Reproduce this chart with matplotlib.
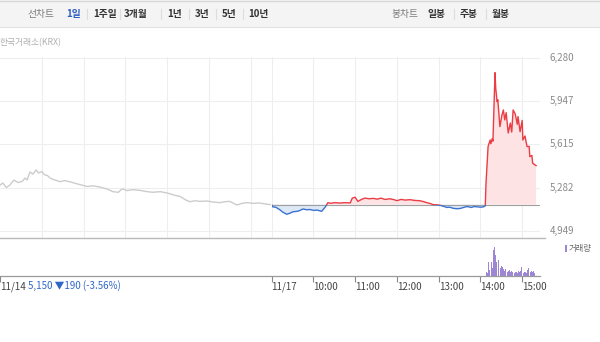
import numpy as np
import matplotlib
matplotlib.use("Agg")
import matplotlib.pyplot as plt
from matplotlib.patches import Rectangle

plt.rcParams['font.family'] = ['Noto Sans CJK KR', 'DejaVu Sans']

# ---------------- data ----------------
# 11/14 (minutes since 09:00) and price
d1_min = [0, 4, 9, 14, 20, 26, 32, 36, 39, 43, 47, 52, 55, 60, 64, 68, 72, 76, 82, 86, 93,
          101, 111, 118, 125, 134, 144, 154, 162, 170, 174, 177, 182, 191, 201, 211, 220,
          230, 240, 249, 259, 267, 273, 280, 287, 297, 306, 316, 323, 330, 340, 348, 355,
          363, 373, 381, 388]
d1_px = [5300, 5317, 5282, 5300, 5340, 5320, 5330, 5355, 5340, 5402, 5385, 5418, 5395, 5405,
         5380, 5375, 5355, 5345, 5335, 5327, 5335, 5325, 5310, 5300, 5290, 5295, 5285, 5270,
         5250, 5245, 5265, 5271, 5258, 5265, 5260, 5250, 5245, 5250, 5240, 5225, 5212, 5185,
         5172, 5180, 5175, 5178, 5170, 5165, 5172, 5175, 5147, 5160, 5165, 5160, 5162, 5155,
         5150]

# 11/17 (minutes since 09:00) and price
d2_min = [0, 2, 6, 12, 16, 22, 27, 31, 37, 41, 45, 51, 55, 61, 65, 72, 77, 81, 85, 91, 98,
          106, 113, 116, 120, 124, 130, 134, 140, 146, 152, 157, 163, 170, 176, 180, 186,
          192, 199, 206, 213, 219, 223, 228, 232, 238, 242, 248, 252, 256, 261, 266, 271,
          277, 281, 287, 291, 295, 300, 304, 307, 308, 310, 311, 314, 315, 317, 318, 321,
          322, 324, 325, 328, 331, 333, 335, 337, 340, 343, 345, 347, 350, 353, 354, 357,
          360, 361, 364, 367, 370, 371, 374, 375, 380]
d2_px = [5150, 5132, 5130, 5110, 5092, 5075, 5085, 5095, 5098, 5105, 5116, 5110, 5112, 5105,
         5108, 5098, 5130, 5165, 5160, 5165, 5162, 5165, 5163, 5200, 5207, 5175, 5192, 5200,
         5195, 5198, 5192, 5200, 5190, 5195, 5188, 5180, 5190, 5185, 5188, 5182, 5180, 5172,
         5165, 5158, 5150, 5148, 5145, 5135, 5128, 5130, 5121, 5118, 5120, 5130, 5135, 5128,
         5135, 5133, 5130, 5132, 5140, 5310, 5500, 5598, 5649, 5620, 5660, 5640, 6169, 6050,
         5945, 5960, 5752, 5842, 5881, 5804, 5860, 5703, 5780, 5710, 5881, 5850, 5770, 5830,
         5713, 5800, 5649, 5680, 5598, 5600, 5520, 5530, 5470, 5451]

prev_close_d2 = 5150

# 11/17 volume (minutes since 09:00)
vol_min = [309, 310, 311, 312, 313, 314, 315, 316, 317, 318, 319, 320, 321, 322, 323, 324,
           325, 326, 327, 328, 329, 330, 331, 332, 333, 334, 335, 336, 337, 338, 339, 340,
           341, 342, 343, 344, 345, 346, 347, 348, 349, 350, 351, 352, 353, 354, 355, 356,
           357, 358, 359, 360, 361, 362, 363, 364, 365, 366, 367, 368, 369, 370, 371, 372,
           373, 374, 375, 376, 377, 378]
vol = [4, 3, 5, 14, 6, 22, 9, 14, 8, 31, 26, 29, 17, 21, 14, 23, 12, 16, 9, 13, 8, 10, 6, 9,
       7, 8, 5, 7, 5, 6, 4, 5, 4, 6, 4, 3, 5, 4, 4, 6, 3, 4, 5, 4, 3, 4, 5, 4, 6, 5, 9, 5,
       4, 3, 4, 5, 4, 3, 5, 6, 8, 4, 3, 4, 5, 3, 4, 5, 4, 3]

y_ticks = [4949, 5282, 5615, 5947, 6280]
y_labels = ["4,949", "5,282", "5,615", "5,947", "6,280"]
day_len = 390
x_tick_pos = [0, 390, 450, 510, 570, 630, 690, 750]
x_tick_labels = ["11/14", "11/17", "10:00", "11:00", "12:00", "13:00", "14:00", "15:00"]
grid_pos = [60, 120, 180, 240, 300, 360, 390, 450, 510, 570, 630, 690, 750]

# ---------------- figure ----------------
W, H = 600, 342
fig = plt.figure(figsize=(W / 100, H / 100), dpi=100)


def fx(x):
    return x / W


def fy(y):
    return 1 - y / H


# header bar
fig.patches.append(Rectangle((0, fy(27)), 1, 27 / H, transform=fig.transFigure,
                             facecolor='#f4f4f4', edgecolor='none', zorder=0))
fig.add_artist(plt.Line2D([0, 1], [fy(27), fy(27)], transform=fig.transFigure,
                          color='#e2e2e2', lw=0.8))
fig.add_artist(plt.Line2D([0, 1], [fy(0.5), fy(0.5)], transform=fig.transFigure,
                          color='#d8d8d8', lw=1))

hy = fy(14)
hfs = 7.0
fig.text(fx(28), hy, "선차트", color='#7a7a7a', fontsize=hfs, va='center', ha='left')
fig.text(fx(66), hy, "1일", color='#2f5ec4', fontsize=hfs, weight='bold', va='center')
for lab, x in [("1주일", 93), ("3개월", 124), ("1년", 167), ("3년", 195), ("5년", 222),
               ("10년", 248)]:
    fig.text(fx(x), hy, lab, color='#333333', fontsize=hfs, weight='bold', va='center')
for x in [87, 120, 161, 189, 216, 243]:
    fig.add_artist(plt.Line2D([fx(x), fx(x)], [fy(9), fy(19)], transform=fig.transFigure,
                              color='#dddddd', lw=0.8))
fig.text(fx(392), hy, "봉차트", color='#7a7a7a', fontsize=hfs, va='center')
for lab, x in [("일봉", 428), ("주봉", 460), ("월봉", 492)]:
    fig.text(fx(x), hy, lab, color='#333333', fontsize=hfs, weight='bold', va='center')
for x in [454, 486]:
    fig.add_artist(plt.Line2D([fx(x), fx(x)], [fy(9), fy(19)], transform=fig.transFigure,
                              color='#dddddd', lw=0.8))

fig.text(fx(0), fy(43), "한국거래소(KRX)", color='#b0b0b0', fontsize=6.3, va='center')

# ---------------- price panel ----------------
ax = fig.add_axes([0, fy(238), fx(540), (238 - 57) / H])
ax.set_xlim(0, 775.6)
ax.set_ylim(4892, 6290)
for s in ax.spines.values():
    s.set_visible(False)
ax.set_xticks([])
ax.set_yticks([])
for v in y_ticks:
    ax.axhline(v, color='#eeeeee', lw=0.8, zorder=0)
for g in grid_pos:
    ax.axvline(g, color='#eeeeee', lw=0.8, zorder=0)

# 11/14 line (gray)
x1 = np.array(d1_min, dtype=float)
ax.plot(x1, d1_px, color='#cccccc', lw=1, zorder=3)

# 11/17 line
x2 = np.array(d2_min, dtype=float) + day_len
y2 = np.array(d2_px, dtype=float)
ax.fill_between(x2, y2, prev_close_d2, where=y2 >= prev_close_d2, interpolate=True,
                color='#fde3e4', lw=0, zorder=1)
ax.fill_between(x2, y2, prev_close_d2, where=y2 <= prev_close_d2, interpolate=True,
                color='#dde8f7', lw=0, zorder=1)
ax.plot([day_len, 775.6], [prev_close_d2, prev_close_d2], color='#a0a0a0', lw=0.8, zorder=2)
red, = ax.plot(x2, y2, color='#ea3d45', lw=1, zorder=4)
blue, = ax.plot(x2, y2, color='#3a72d0', lw=1, zorder=4)
red.set_clip_path(Rectangle((day_len, prev_close_d2), 500, 3000, transform=ax.transData))
blue.set_clip_path(Rectangle((day_len, 3000), 500, prev_close_d2 - 3000, transform=ax.transData))

# right labels
for v, lab in zip(y_ticks, y_labels):
    ax.text(fx(550) / fx(540), v, lab, transform=ax.get_yaxis_transform(), color='#8a8a8a',
            fontsize=7, va='center', ha='left')

# separator between panels
fig.add_artist(plt.Line2D([0, fx(545)], [fy(238), fy(238)], transform=fig.transFigure,
                          color='#b9b9b9', lw=1))

# ---------------- volume panel ----------------
axv = fig.add_axes([0, fy(275.7), fx(540), (275.7 - 238.5) / H])
axv.set_xlim(0, 775.6)
axv.set_ylim(0, 37.5)
for k, s in axv.spines.items():
    s.set_visible(k == 'bottom')
axv.spines['bottom'].set_color('#9a9a9a')
axv.spines['bottom'].set_linewidth(0.9)
axv.bar(np.array(vol_min) + day_len, vol, width=0.85, color='#9d86d3', lw=0)
axv.set_yticks([])
axv.set_xticks(x_tick_pos)
axv.set_xticklabels(x_tick_labels)
axv.tick_params(axis='x', length=4, width=0.8, color='#888888', labelsize=7,
                labelcolor='#444444', pad=0.5)
for t in axv.get_xticklabels():
    t.set_horizontalalignment('left')

fig.text(fx(28), fy(286), "5,150 ▼190 (-3.56%)", color='#2f67c9', fontsize=7, va='center')

# legend
fig.patches.append(Rectangle((fx(565), fy(252)), 2 / W, 7 / H, transform=fig.transFigure,
                             facecolor='#9d86d3', edgecolor='none'))
fig.text(fx(569), fy(248.5), "거래량", color='#666666', fontsize=6, va='center')

fig.savefig("out.png", dpi=100)
